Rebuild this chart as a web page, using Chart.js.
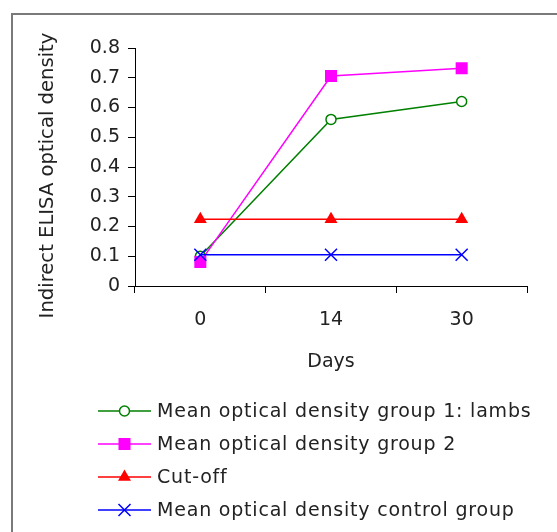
<!DOCTYPE html>
<html>
<head>
<meta charset="utf-8">
<script src="https://cdn.jsdelivr.net/npm/chart.js@4/dist/chart.umd.min.js"></script>
<style>
  html, body { margin: 0; padding: 0; background: #fff; overflow: hidden; }
  #wrap { position: relative; width: 557px; height: 532px; }
  #frame { position: absolute; left: 11px; top: 13px; width: 700px; height: 700px; border: 2px solid #7a7a7a; box-sizing: border-box; }
  #chart { position: absolute; left: 0; top: 0; }
</style>
</head>
<body>
<div id="wrap">
  <div id="frame"></div>
  <canvas id="chart" width="557" height="532"></canvas>
</div>
<script>
// Data
const days = ["0", "14", "30"];
const group1 = [0.10, 0.56, 0.62];
const group2 = [0.081, 0.706, 0.732];
const cutOff = [0.224, 0.224, 0.224];
const control = [0.105, 0.105, 0.105];
const yTickLabels = ["0", "0.1", "0.2", "0.3", "0.4", "0.5", "0.6", "0.7", "0.8"];
const seriesNames = [
  "Mean optical density group 1: lambs",
  "Mean optical density group 2",
  "Cut-off",
  "Mean optical density control group"
];
const yTitle = "Indirect ELISA optical density";

const FONT = "DejaVu Sans";
const TEXT = "#222";

const datasets = [
  { label: seriesNames[0], data: group1, borderColor: "#008000", backgroundColor: "#fff",
    pointStyle: "circle", pointRadius: 5, pointBorderWidth: 1.5, order: 4 },
  { label: seriesNames[1], data: group2, borderColor: "#ff00ff", backgroundColor: "#ff00ff",
    pointStyle: "rect", pointRadius: 8.5, pointBorderWidth: 0, order: 3 },
  { label: seriesNames[2], data: cutOff, borderColor: "#ff0000", backgroundColor: "#ff0000",
    pointStyle: "triangle", pointRadius: 7.5, pointBorderWidth: 0, order: 2 },
  { label: seriesNames[3], data: control, borderColor: "#0000ff", backgroundColor: "#0000ff",
    pointStyle: "crossRot", pointRadius: 8.5, pointBorderWidth: 1.5, order: 1 }
].map(d => Object.assign({ borderWidth: 1.5, tension: 0, fill: false, pointHoverRadius: d.pointRadius }, d));

// y title (sits a bit lower than the axis centre) and a line+marker legend
const extras = {
  id: "extras",
  afterDraw(chart) {
    const ctx = chart.ctx;
    ctx.save();
    ctx.fillStyle = TEXT;
    ctx.font = "19.6px '" + FONT + "'";
    ctx.textAlign = "center";
    ctx.textBaseline = "middle";
    ctx.translate(48, 175.5);
    ctx.rotate(-Math.PI / 2);
    ctx.fillText(yTitle, 0, 0);
    ctx.restore();

    const x0 = 98, x1 = 151, y0 = 411, step = 33;
    ctx.save();
    ctx.font = "19px '" + FONT + "'";
    ctx.letterSpacing = "0.8px";
    ctx.textBaseline = "middle";
    chart.data.datasets.forEach((ds, i) => {
      const y = y0 + i * step;
      ctx.strokeStyle = ds.borderColor;
      ctx.lineWidth = ds.borderWidth;
      ctx.beginPath();
      ctx.moveTo(x0, y);
      ctx.lineTo(x1, y);
      ctx.stroke();
      ctx.fillStyle = ds.backgroundColor;
      ctx.lineWidth = ds.pointBorderWidth;
      Chart.helpers.drawPoint(ctx, { pointStyle: ds.pointStyle, radius: ds.pointRadius, rotation: 0, borderWidth: ds.pointBorderWidth }, (x0 + x1) / 2, y);
      ctx.fillStyle = TEXT;
      ctx.fillText(ds.label, 157, y + 1);
    });
    ctx.restore();
  }
};

new Chart(document.getElementById("chart"), {
  type: "line",
  data: { labels: days, datasets: datasets },
  plugins: [extras],
  options: {
    responsive: false,
    animation: false,
    layout: { padding: { top: 48, left: 20, right: 30, bottom: 156 } },
    plugins: { legend: { display: false }, tooltip: { enabled: false } },
    scales: {
      x: {
        offset: true,
        grid: { offset: true, drawOnChartArea: false, tickLength: 7, color: "#000" },
        border: { color: "#000", width: 1 },
        ticks: { color: TEXT, font: { family: FONT, size: 19 }, padding: 16 },
        title: { display: true, text: "Days", color: TEXT, font: { family: FONT, size: 19 }, padding: { top: 0, bottom: 3 } },
        afterFit(s) { s.height = 90; }
      },
      y: {
        min: 0, max: 0.8,
        grid: { drawOnChartArea: false, tickLength: 7, color: "#000" },
        border: { color: "#000", width: 1 },
        ticks: { stepSize: 0.1, color: TEXT, font: { family: FONT, size: 19 }, padding: 8,
          callback: (v, i) => yTickLabels[i] },
        afterFit(s) { s.width = 115; }
      }
    }
  }
});
</script>
</body>
</html>
